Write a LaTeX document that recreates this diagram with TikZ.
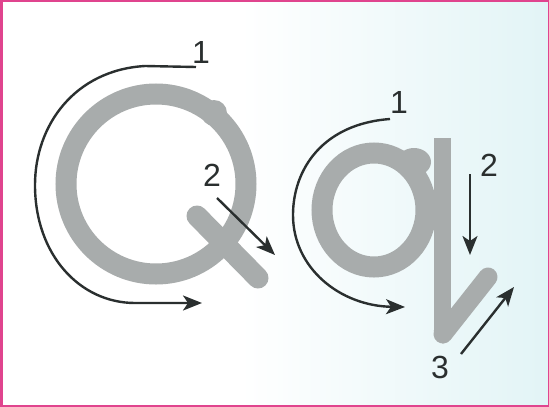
\documentclass[tikz,border=0pt]{standalone}
\usepackage{fontspec}
\setmainfont{Liberation Sans}
\usetikzlibrary{arrows.meta}
\definecolor{framepink}{HTML}{E0448E}
\definecolor{bgc}{HTML}{E2F4F6}
\definecolor{strokegrey}{HTML}{A8ACAC}
\definecolor{ink}{HTML}{2A2F2F}
\tikzset{
  letter/.style={draw=strokegrey, line width=21pt},
  guide/.style={draw=ink, line width=2.4pt, -{Stealth[length=19pt,width=15pt,inset=5pt]}},
  num/.style={text=ink, font=\fontsize{32}{32}\selectfont, inner sep=0pt}
}
\begin{document}
\begin{tikzpicture}[x=1pt,y=-1pt]
\useasboundingbox (0,0) rectangle (549,407);
% background
\fill[white] (0,0) rectangle (549,407);
\shade[left color=white, right color=bgc] (240,0) rectangle (549,407);
% frame
\fill[framepink] (0,0) rectangle (3,407);
\fill[framepink] (0,0) rectangle (549,1.5);
\fill[framepink] (0,405) rectangle (549,407);
\fill[framepink] (547.5,0) rectangle (549,407);

% ---- big Q ----
\draw[letter] (156,184) circle[radius=90];
\fill[strokegrey] (214,113) circle[radius=13];
\draw[letter, line cap=round] (197,216) -- (258,278);

\node[num] (Q1) at (201,52) {1};
\node[num] (Q2) at (212,175) {2};
\coordinate (Q1s) at (196,67);
\coordinate (Q1e) at (202,303);
\coordinate (Q2s) at (217,198);
\coordinate (Q2e) at (275,255);
\draw[guide] (Q1s) -- (145,66) .. controls (75,70) and (35,125) .. (35,185)
  .. controls (35,255) and (80,303) .. (135,303) -- (Q1e);
\draw[guide] (Q2s) -- (Q2e);

% ---- small q ----
\draw[letter] (374,210) ellipse[x radius=52, y radius=57];
\fill[strokegrey] (414,162) ellipse[x radius=17, y radius=14];
\draw[draw=strokegrey, line width=17pt] (442,138) -- (442,332);
\draw[draw=strokegrey, line width=19pt, line cap=round] (443,334) -- (488,277);
\fill[strokegrey] (433.5,330) -- (450.5,330) -- (443,344) -- cycle;

\node[num] (q1) at (399,102) {1};
\node[num] (q2) at (489,165) {2};
\node[num] (q3) at (440,367) {3};
\coordinate (q1s) at (390,119);
\coordinate (q1e) at (405,307);
\coordinate (q2s) at (470,174);
\coordinate (q2e) at (470,255);
\coordinate (q3s) at (461,354);
\coordinate (q3e) at (514,287);
\draw[guide] (q1s) .. controls (322,124) and (293,170) .. (293,215)
  .. controls (293,268) and (340,306) .. (q1e);
\draw[guide] (q2s) -- (q2e);
\draw[guide] (q3s) -- (q3e);
\end{tikzpicture}
\end{document}
